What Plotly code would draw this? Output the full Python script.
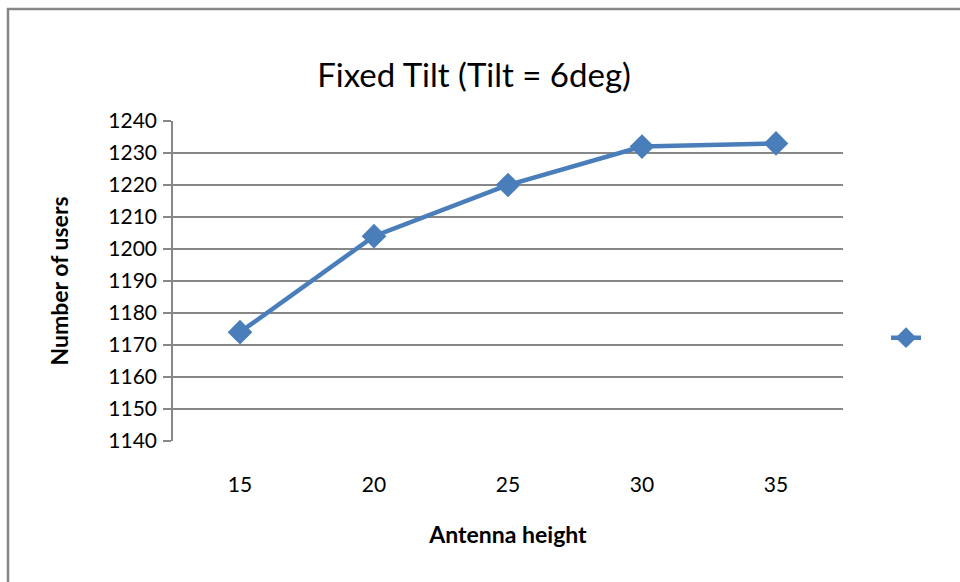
import plotly.graph_objects as go

antenna_height = [15, 20, 25, 30, 35]
num_users = [1174, 1204, 1220, 1232, 1233]
y_ticks = list(range(1140, 1241, 10))

W, H = 960, 582
L, R, T, B = 173, 117, 121, 141
pw, ph = W - L - R, H - T - B

fig = go.Figure()
fig.add_trace(go.Scatter(
    x=antenna_height, y=num_users, mode="lines+markers", name="",
    line=dict(color="#4A7EBB", width=4.5),
    marker=dict(symbol="diamond", size=19, color="#4A7EBB"),
    showlegend=True,
))

font = "Lato, 'Open Sans', sans-serif"
fig.update_layout(
    width=W, height=H,
    margin=dict(l=L, r=R, t=T, b=B),
    paper_bgcolor="white", plot_bgcolor="white",
    font=dict(family=font, color="black", size=21),
    title=dict(text="Fixed Tilt (Tilt = 6deg)", x=474 / W, xanchor="center",
               y=1 - 75 / H, yanchor="middle",
               font=dict(size=33, family=font, color="black")),
    xaxis=dict(range=[12.5, 37.5], tickvals=antenna_height,
               ticktext=[str(v) for v in antenna_height],
               showgrid=False, zeroline=False, showline=False, ticks="",
               ticklabelstandoff=29,
               title=dict(text="<b>Antenna height</b>", font=dict(size=23), standoff=31)),
    yaxis=dict(range=[1140, 1240], tickvals=y_ticks,
               showgrid=True, gridcolor="#878787", gridwidth=1.5,
               showline=True, linecolor="#878787", linewidth=1.5,
               ticks="outside", ticklen=8, tickcolor="#878787", tickwidth=1.5,
               ticklabelstandoff=2,
               zeroline=False,
               title=dict(text="<b>Number of users</b>", font=dict(size=23), standoff=33)),
    legend=dict(x=(886 - L) / pw, xanchor="left", y=(H - B - 338) / ph, yanchor="middle",
                bgcolor="rgba(0,0,0,0)", itemwidth=30),
    shapes=[dict(type="rect", xref="paper", yref="paper",
                 x0=(8 - L) / pw, x1=(W + 20 - L) / pw,
                 y0=(H - B - (H + 20)) / ph, y1=(H - B - 9) / ph,
                 line=dict(color="#878787", width=2.5), fillcolor="rgba(0,0,0,0)", layer="below")],
)
fig.write_html("out.html")
